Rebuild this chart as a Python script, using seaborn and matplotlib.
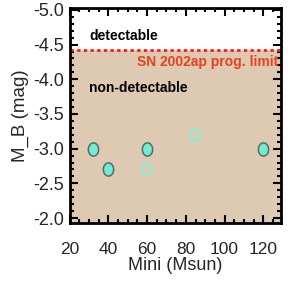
import numpy as np
import pandas as pd
import matplotlib
matplotlib.use("Agg")
import matplotlib.pyplot as plt
from matplotlib.path import Path
from matplotlib.ticker import MultipleLocator
import seaborn as sns

# progenitor models: initial mass vs absolute B magnitude
mass_filled = [32, 40, 60, 120]
mag_filled = [-3.0, -2.7, -3.0, -3.0]
mass_open = [60, 85]
mag_open = [-2.7, -3.2]
limit_mag = -4.42

x_ticks = [20, 40, 60, 80, 100, 120]
y_ticks = [-5.0, -4.5, -4.0, -3.5, -3.0, -2.5, -2.0]

sns.set_style("ticks")
plt.rcParams["font.family"] = ["Liberation Sans", "DejaVu Sans"]
plt.rcParams["axes.unicode_minus"] = False

df_filled = pd.DataFrame({"mass": mass_filled, "mag": mag_filled})
df_open = pd.DataFrame({"mass": mass_open, "mag": mag_open})

# slightly tall ellipse marker
theta = np.linspace(0, 2 * np.pi, 60)
ellipse = Path(np.column_stack([0.78 * np.cos(theta), np.sin(theta)]), closed=True)

fig = plt.figure(figsize=(2.91, 2.91), dpi=100)
ax = fig.add_axes([0.239, 0.234, 0.726, 0.739])

ax.set_xlim(20, 129)
ax.set_ylim(-1.93, -5.03)

# shaded non-detectable region and limit line
ax.axhspan(limit_mag, -1.93, color="#dec9b2", zorder=0, lw=0)
ax.axhline(limit_mag, color="#ff1a1a", ls=(0, (1.2, 1.2)), lw=2, zorder=2)

sns.scatterplot(data=df_filled, x="mass", y="mag", ax=ax, s=90, marker=ellipse,
                color="#70ecd0", edgecolor="#5a6a66", linewidth=1.1,
                zorder=3, legend=False)
sns.scatterplot(data=df_open, x="mass", y="mag", ax=ax, s=80, marker=ellipse,
                facecolor="none", edgecolor="#80f0d4", linewidth=1.3,
                zorder=3, legend=False)

ax.text(30, -4.63, "detectable", fontsize=10, fontweight="bold",
        color="black", va="center", ha="left")
ax.text(127.5, -4.25, "SN 2002ap prog. limit", fontsize=10,
        fontweight="bold", color="#e8401c", va="center", ha="right")
ax.text(30, -3.88, "non-detectable", fontsize=10, fontweight="bold",
        color="black", va="center", ha="left")

ax.set_xticks(x_ticks)
ax.set_yticks(y_ticks)
ax.set_yticklabels([f"{v:.1f}" for v in y_ticks])
ax.xaxis.set_minor_locator(MultipleLocator(5))
ax.yaxis.set_minor_locator(MultipleLocator(0.1))
ax.tick_params(which="both", direction="in", top=True, right=True,
               width=1.5, color="black")
ax.tick_params(which="major", length=6)
ax.tick_params(which="minor", length=3)
ax.tick_params(axis="x", labelsize=12.5, pad=14)
ax.tick_params(axis="y", labelsize=13, pad=4)
for sp in ax.spines.values():
    sp.set_linewidth(2)
    sp.set_color("black")

ax.set_xlabel("Mini (Msun)", fontsize=13, labelpad=0)
ax.set_ylabel("M_B (mag)", fontsize=13.5, labelpad=3)

fig.savefig("out.png", dpi=100)
